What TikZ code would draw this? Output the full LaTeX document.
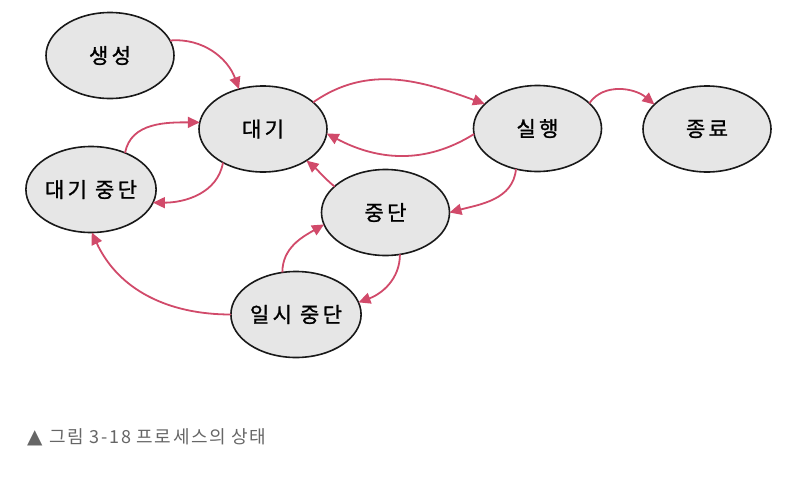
\documentclass[tikz,border=0pt]{standalone}
\usepackage{fontspec}
\newfontfamily\kr[LetterSpace=16,FakeBold=1.2]{Noto Sans CJK KR}
\newfontfamily\krcap[LetterSpace=9]{Noto Sans CJK KR}
\newfontfamily\sym{DejaVu Sans}
\usetikzlibrary{shapes.geometric,arrows.meta}
\definecolor{arrowc}{HTML}{D14A6A}
\definecolor{nodefill}{HTML}{E6E6E6}
\definecolor{capc}{HTML}{666666}
\begin{document}
\begin{tikzpicture}[x=1pt,y=1pt,
 state/.style={ellipse, draw=black!90, line width=1.6pt, fill=nodefill,
   minimum width=128pt, minimum height=86pt, inner sep=0pt, outer sep=0pt,
   font=\kr\fontsize{21}{23}\selectfont},
 trans/.style={draw=arrowc, line width=1.8pt, -{Triangle[length=12pt,width=11pt]}}]
\useasboundingbox (0,0) rectangle (806,-482);
\node[state] (create) at (110,-55.5) {생성};
\node[state] (wait) at (263,-129) {대기};
\node[state] (wsusp) at (91,-189.5) {대기 중단};
\node[state] (run) at (537.5,-128.5) {실행};
\node[state] (exit) at (707,-129) {종료};
\node[state] (stop) at (385.5,-212.5) {중단};
\node[state] (psusp) at (296,-314.5) {일시 중단};

\draw[trans] (create.14) to[out=5,in=110] (wait.121);
\draw[trans] (wait.28) to[out=35,in=160] (run.155);
\draw[trans] (run.185) to[out=212,in=-28] (wait.-4);
\draw[trans] (run.26) to[out=55,in=140] (exit.155);
\draw[trans] (run.242) to[out=-95,in=15] (stop.0);
\draw[trans] (stop.153) to[out=140,in=-40] (wait.-36);
\draw[trans] (wsusp.47) to[out=80,in=180] (wait.174);
\draw[trans] (wait.220) to[out=-100,in=0] (wsusp.-12);
\draw[trans] (psusp.180) to[out=180,in=-65] (wsusp.-89);
\draw[trans] (psusp.108) to[out=90,in=210] (stop.191);
\draw[trans] (stop.-71) to[out=-90,in=20] (psusp.11);

\node[anchor=west, text=capc, inner sep=0pt, font=\krcap\fontsize{18}{20}\selectfont] (cap) at (27,-437) {{\sym\fontsize{20}{20}\selectfont ▲}\hspace{7pt}그림 3-18 프로세스의 상태};
\end{tikzpicture}
\end{document}
